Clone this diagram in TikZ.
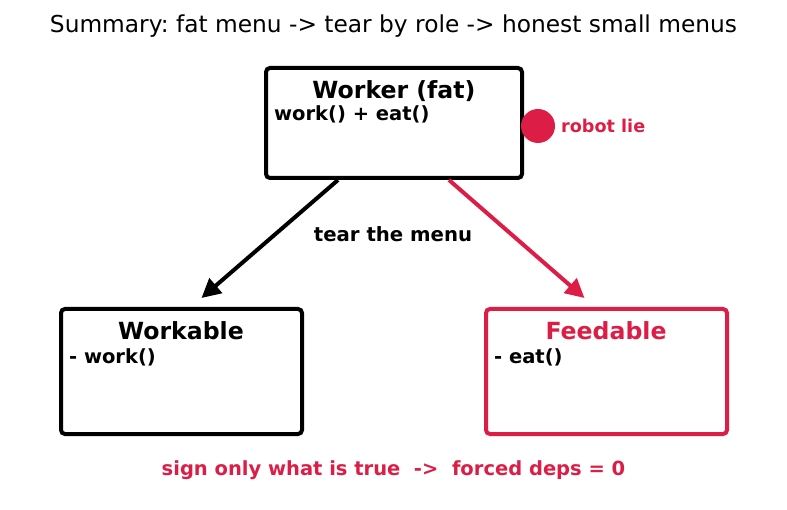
\documentclass[tikz,border=0pt]{standalone}
\usepackage{fontspec}
\setmainfont{DejaVu Sans}
\usetikzlibrary{arrows.meta,calc}
\definecolor{lie}{RGB}{220,30,70}
\frenchspacing

\begin{document}
\begin{tikzpicture}[x=1pt,y=-1pt,
  menubox/.style={draw,line width=4pt,rounded corners=4pt,inner sep=0pt,
    minimum width=256pt,minimum height=110pt},
  boxhead/.style={font=\bfseries\fontsize{23.6}{28}\selectfont,anchor=base},
  boxline/.style={font=\bfseries\fontsize{19.5}{23}\selectfont,anchor=base west,inner sep=0pt},
  tear/.style={line width=4pt,-{Triangle[length=19pt,width=19pt]}}]
\useasboundingbox (0,0) rectangle (787,510);

\node[font=\fontsize{23.3}{27}\selectfont,anchor=base] (title) at (393.5,33)
  {Summary: fat menu -> tear by role -> honest small menus};

% the fat one
\node[menubox] (worker) at (394,123) {};
\node[boxhead] (workerhead) at (394,99) {Worker (fat)};
\node[boxline] (workerline) at (274,121) {work() + eat()};
\node[circle,fill=lie,minimum size=34pt,inner sep=0pt] (dot) at (538,126) {};
\node[boxline,text=lie,font=\bfseries\fontsize{17.6}{21}\selectfont] (lie) at (561,133) {robot lie};

% the small ones
\node[menubox,minimum width=241pt,minimum height=125pt] (workable) at (181.5,371.5) {};
\node[boxhead] (workablehead) at (181,340) {Workable};
\node[boxline] (workableline) at (69,363) {- work()};

\node[menubox,draw=lie,minimum width=241pt,minimum height=125pt] (feedable) at (606.5,371.5) {};
\node[boxhead,text=lie] (feedablehead) at (606,340) {Feedable};
\node[boxline] (feedableline) at (494,363) {- eat()};

\draw[tear] ([xshift=-56pt]worker.south) -- ([xshift=20pt,yshift=9pt]workable.north);
\draw[tear,draw=lie,fill=lie] ([xshift=55pt]worker.south) -- ([xshift=-22pt,yshift=9pt]feedable.north);

\node[font=\bfseries\fontsize{19.7}{23}\selectfont,anchor=base] (tearlabel) at (393,242) {tear the menu};
\node[font=\bfseries\fontsize{19.5}{23}\selectfont,anchor=base,text=lie] (result) at (393.5,475)
  {sign only what is true\ \ ->\ \ forced deps = 0};
\end{tikzpicture}
\end{document}
